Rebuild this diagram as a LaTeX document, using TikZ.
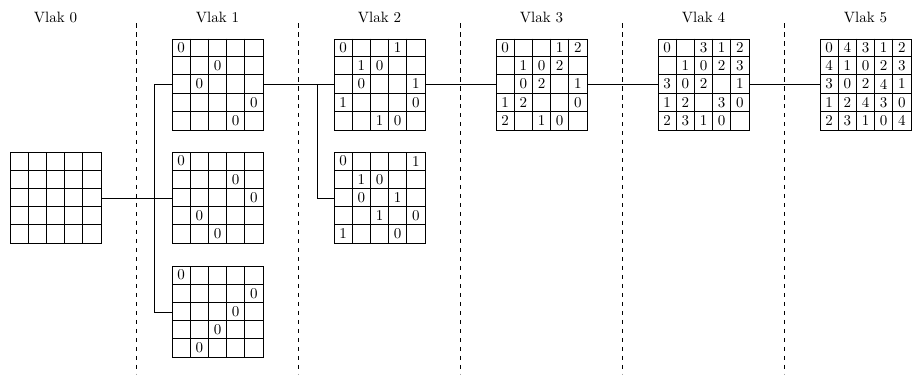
\documentclass[tikz,border=0pt]{standalone}
\usepackage{tikz}
\usetikzlibrary{positioning}

\begin{document}
\begin{tikzpicture}[x=0.6667pt, y=-0.6667pt, font=\normalsize, line width=.6pt]
\tikzset{vlak/.style={draw, anchor=north west, inner sep=0pt, minimum width=60.67pt, minimum height=60.67pt}, cifra/.style={inner sep=0pt}, spoj/.style={draw=black}, hranica/.style={dashed, line width=.5pt}}
\useasboundingbox (0,0) rectangle (912,377);
% nadpisy a hranice medzi vlakmi
\foreach \i/\x in {0/55.5,1/217.5,2/379.5,3/541.5,4/703.5,5/865.5}
  \node (nadpis\i) at (\x,17) {Vlak \i};
\foreach \x in {136,298,460,622,784}
  \draw[hranica] (\x,23) -- (\x,374);
% mriezky
\foreach \name/\x/\y in {v0/10/152, v1a/172/38.5, v1b/172/152, v1c/172/266, v2a/334/38.5, v2b/334/152, v3/496/38.5, v4/658/38.5, v5/820/38.5} {
  \node[vlak] (\name) at (\x,\y) {};
  \foreach \k in {1,...,4} {
    \draw ([shift={(\k*18.2,0)}]\name.north west) -- ([shift={(\k*18.2,0)}]\name.south west);
    \draw ([shift={(0,\k*18.2)}]\name.north west) -- ([shift={(0,\k*18.2)}]\name.north east);
  }
}
% cisla v mriezkach
\foreach \name/\rows in {
  v1a/{{0,,,,},{,,0,,},{,0,,,},{,,,,0},{,,,0,}},
  v1b/{{0,,,,},{,,,0,},{,,,,0},{,0,,,},{,,0,,}},
  v1c/{{0,,,,},{,,,,0},{,,,0,},{,,0,,},{,0,,,}},
  v2a/{{0,,,1,},{,1,0,,},{,0,,,1},{1,,,,0},{,,1,0,}},
  v2b/{{0,,,,1},{,1,0,,},{,0,,1,},{,,1,,0},{1,,,0,}},
  v3/{{0,,,1,2},{,1,0,2,},{,0,2,,1},{1,2,,,0},{2,,1,0,}},
  v4/{{0,,3,1,2},{,1,0,2,3},{3,0,2,,1},{1,2,,3,0},{2,3,1,0,}},
  v5/{{0,4,3,1,2},{4,1,0,2,3},{3,0,2,4,1},{1,2,4,3,0},{2,3,1,0,4}}} {
  \foreach \riad [count=\ri] in \rows {
    \foreach \v [count=\si] in \riad {
      \ifx\v\empty\else
        \node[cifra] (\name-\ri-\si) at ([shift={(\si*18.2-9.1,\ri*18.2-9.1)}]\name.north west) {\v};
      \fi
    }
  }
}
% spojenia
\coordinate (k1) at (154,0);
\coordinate (k2) at (317,0);
\draw[spoj] (v0.east) -- (v0.east -| k1);
\draw[spoj] (v1a.west) -- (v1a.west -| k1) -- (v1c.west -| k1) -- (v1c.west);
\draw[spoj] (v1b.west) -- (v1b.west -| k1);
\draw[spoj] (v1a.east) -- (v2a.west);
\draw[spoj] (v1a.east -| k2) -- (v2b.west -| k2) -- (v2b.west);
\draw[spoj] (v2a.east) -- (v3.west);
\draw[spoj] (v3.east) -- (v4.west);
\draw[spoj] (v4.east) -- (v5.west);
\end{tikzpicture}
\end{document}
